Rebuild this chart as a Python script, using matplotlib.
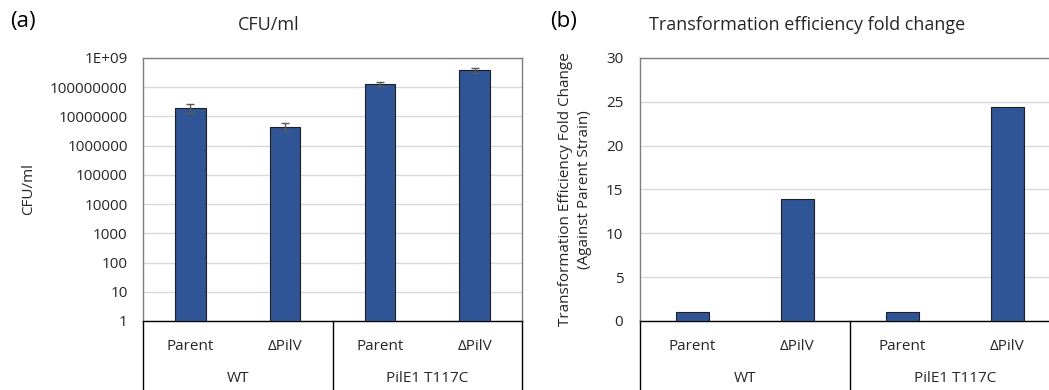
import numpy as np
import matplotlib
matplotlib.use("Agg")
import matplotlib.pyplot as plt
from matplotlib.ticker import FixedLocator, FixedFormatter
import matplotlib.transforms as mtransforms

plt.rcParams['font.family'] = ['Open Sans', 'DejaVu Sans']

# data
strains = ["Parent", "\u0394PilV", "Parent", "\u0394PilV"]
groups = ["WT", "PilE1 T117C"]
cfu = [2.0e7, 4.5e6, 1.26e8, 3.8e8]
cfu_err = [7e6, 1.3e6, 2.0e7, 7.0e7]
fold_change = [1.0, 13.9, 1.0, 24.4]

cfu_ticks = [1, 10, 100, 1000, 10000, 100000, 1000000, 10000000, 100000000, 1e9]
cfu_tick_labels = ["1", "10", "100", "1000", "10000", "100000", "1000000",
                   "10000000", "100000000", "1E+09"]
fold_ticks = [0, 5, 10, 15, 20, 25, 30]

BAR = "#2F5597"
GRID = "#D9D9D9"
FRAME = "#7F7F7F"
TXT = "#262626"
FS = 11

W, H = 1049, 390
fig = plt.figure(figsize=(W / 100, H / 100), dpi=100)


def px_axes(x0, y0, x1, y1):
    return fig.add_axes([x0 / W, 1 - y1 / H, (x1 - x0) / W, (y1 - y0) / H])


def style_axes(ax, ypad):
    x = np.arange(len(strains))
    ax.set_xlim(-0.5, len(strains) - 0.5)
    ax.set_xticks(x)
    ax.set_xticklabels(strains, fontsize=FS, color=TXT)
    ax.tick_params(axis='x', length=0, pad=13)
    ax.tick_params(axis='y', length=0, pad=ypad, labelsize=FS, labelcolor=TXT)
    ax.grid(axis='y', color=GRID, linewidth=1)
    ax.set_axisbelow(True)
    for side in ["top", "left", "right"]:
        ax.spines[side].set_color(FRAME)
        ax.spines[side].set_linewidth(1)
    ax.spines["bottom"].set_color("#000000")
    ax.spines["bottom"].set_linewidth(1)

    # group separators and group labels below the axis
    trans = mtransforms.blended_transform_factory(ax.transData, ax.transAxes)
    for xs in [-0.5, 1.5, 3.5]:
        ax.plot([xs, xs], [0, -0.3], color="#000000", linewidth=1,
                transform=trans, clip_on=False)
    for i, g in enumerate(groups):
        ax.text(2 * i + 0.5, -0.217, g, transform=trans, ha='center',
                va='center', fontsize=FS, color=TXT)


# panel (a)
ax1 = px_axes(143, 58, 522, 321)
ax1.bar(np.arange(len(strains)), cfu, width=0.32, color=BAR,
        edgecolor="#1F1F1F", linewidth=0.8, zorder=3)
ax1.errorbar(np.arange(len(strains)), cfu, yerr=cfu_err, fmt='none',
             ecolor="#595959", elinewidth=1, capsize=3, capthick=1, zorder=4)
ax1.set_yscale('log')
ax1.set_ylim(1, 1e9)
ax1.yaxis.set_major_locator(FixedLocator(cfu_ticks))
ax1.yaxis.set_major_formatter(FixedFormatter(cfu_tick_labels))
ax1.yaxis.set_minor_locator(FixedLocator([]))
style_axes(ax1, 11)
ax1.set_ylabel("CFU/ml", fontsize=FS, color=TXT, labelpad=10)

# panel (b)
ax2 = px_axes(640, 58, 1060, 321)
ax2.bar(np.arange(len(strains)), fold_change, width=0.32, color=BAR,
        edgecolor="#1F1F1F", linewidth=0.8, zorder=3)
ax2.set_ylim(0, 30)
ax2.set_yticks(fold_ticks)
style_axes(ax2, 12)
ax2.set_ylabel("Transformation Efficiency Fold Change\n(Against Parent Strain)",
               fontsize=FS, color=TXT, labelpad=10, linespacing=1.4)

# titles and panel letters
fig.text(269 / W, 1 - 25 / H, "CFU/ml", ha='center', va='center',
         fontsize=13, color=TXT)
fig.text(807 / W, 1 - 25 / H, "Transformation efficiency fold change",
         ha='center', va='center', fontsize=13, color=TXT)
fig.text(10 / W, 1 - 22 / H, "(a)", ha='left', va='center', fontsize=16,
         color="#000000")
fig.text(550 / W, 1 - 22 / H, "(b)", ha='left', va='center', fontsize=16,
         color="#000000")

fig.savefig("out.png", dpi=100, facecolor="white")
